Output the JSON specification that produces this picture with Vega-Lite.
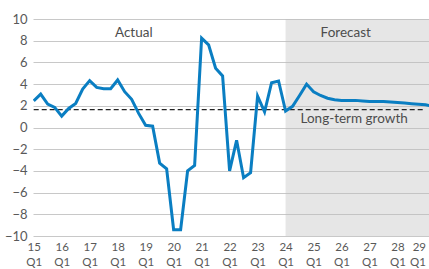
{
  "$schema": "https://vega.github.io/schema/vega-lite/v6.json",
  "width": 396,
  "height": 217,
  "autosize": {"type": "none"},
  "padding": {"left": 33, "top": 19, "right": 0, "bottom": 33},
  "config": {
    "view": {"stroke": null},
    "font": "Lato",
    "axis": {"labelFont": "Lato", "labelColor": "#595959"}
  },
  "datasets": {
    "growth": [
      {"q": 0, "v": 2.46}, {"q": 1, "v": 3.08}, {"q": 2, "v": 2.16}, {"q": 3, "v": 1.85},
      {"q": 4, "v": 1.05}, {"q": 5, "v": 1.76}, {"q": 6, "v": 2.22}, {"q": 7, "v": 3.55},
      {"q": 8, "v": 4.32}, {"q": 9, "v": 3.7}, {"q": 10, "v": 3.58}, {"q": 11, "v": 3.57},
      {"q": 12, "v": 4.38}, {"q": 13, "v": 3.3}, {"q": 14, "v": 2.6}, {"q": 15, "v": 1.3},
      {"q": 16, "v": 0.2}, {"q": 17, "v": 0.12}, {"q": 18, "v": -3.28}, {"q": 19, "v": -3.8},
      {"q": 20, "v": -9.42}, {"q": 21, "v": -9.42}, {"q": 22, "v": -4.0}, {"q": 23, "v": -3.5},
      {"q": 24, "v": 8.24}, {"q": 25, "v": 7.62}, {"q": 26, "v": 5.46}, {"q": 27, "v": 4.75},
      {"q": 28, "v": -4.0}, {"q": 29, "v": -1.18}, {"q": 30, "v": -4.63}, {"q": 31, "v": -4.17},
      {"q": 32, "v": 2.9}, {"q": 33, "v": 1.45}, {"q": 34, "v": 4.13}, {"q": 35, "v": 4.29},
      {"q": 36, "v": 1.52}, {"q": 37, "v": 1.95}, {"q": 38, "v": 2.95}, {"q": 39, "v": 4.0},
      {"q": 40, "v": 3.3}, {"q": 41, "v": 2.95}, {"q": 42, "v": 2.7}, {"q": 43, "v": 2.55},
      {"q": 44, "v": 2.5}, {"q": 45, "v": 2.5}, {"q": 46, "v": 2.5}, {"q": 47, "v": 2.45},
      {"q": 48, "v": 2.4}, {"q": 49, "v": 2.4}, {"q": 50, "v": 2.4}, {"q": 51, "v": 2.35},
      {"q": 52, "v": 2.3}, {"q": 53, "v": 2.25}, {"q": 54, "v": 2.2}, {"q": 55, "v": 2.15},
      {"q": 56, "v": 2.1}, {"q": 57, "v": 1.95}
    ]
  },
  "encoding": {
    "x": {
      "type": "quantitative",
      "scale": {"domain": [-0.1, 56.5], "nice": false, "zero": false},
      "axis": {
        "title": null,
        "values": [0, 4, 8, 12, 16, 20, 24, 28, 32, 36, 40, 44, 48, 52, 56],
        "labelExpr": "[format(15 + datum.value / 4, 'd'), 'Q1']",
        "labelAlign": {"condition": {"test": "datum.value >= 56", "value": "right"}, "value": "center"},
        "grid": false,
        "ticks": false,
        "domain": false,
        "labelFontSize": 11.5,
        "labelLineHeight": 15,
        "labelPadding": 5,
        "labelFlush": false,
        "labelOverlap": false
      }
    },
    "y": {
      "type": "quantitative",
      "scale": {"domain": [-10, 10], "nice": false},
      "axis": {
        "title": null,
        "values": [-10, -8, -6, -4, -2, 0, 2, 4, 6, 8, 10],
        "grid": true,
        "gridColor": "#c8c8c8",
        "gridWidth": 1,
        "ticks": false,
        "domain": false,
        "labelFontSize": 13,
        "labelPadding": 6,
        "labelOverlap": false
      }
    }
  },
  "layer": [
    {
      "data": {"values": [{}]},
      "mark": {"type": "rect", "color": "#bdbdbd", "opacity": 0.38},
      "encoding": {
        "x": {"datum": 36, "type": "quantitative"},
        "x2": {"datum": 56.5},
        "y": {"datum": 10, "type": "quantitative"},
        "y2": {"datum": -10}
      }
    },
    {
      "data": {"values": [{}]},
      "mark": {"type": "rule", "color": "#222222", "strokeWidth": 1.2, "strokeDash": [5, 3]},
      "encoding": {
        "x": {"datum": 0, "type": "quantitative"},
        "x2": {"datum": 56},
        "y": {"datum": 1.65, "type": "quantitative"}
      }
    },
    {
      "data": {"name": "growth"},
      "mark": {"type": "line", "color": "#0a7ec2", "strokeWidth": 3, "clip": true, "strokeJoin": "miter"},
      "encoding": {
        "x": {"field": "q", "type": "quantitative"},
        "y": {"field": "v", "type": "quantitative"}
      }
    },
    {
      "data": {"values": [{}]},
      "mark": {"type": "text", "fontSize": 13.5, "color": "#4d4d4d", "align": "center", "baseline": "alphabetic"},
      "encoding": {
        "x": {"datum": 14.3, "type": "quantitative"},
        "y": {"datum": 8.36, "type": "quantitative"},
        "text": {"value": "Actual"}
      }
    },
    {
      "data": {"values": [{}]},
      "mark": {"type": "text", "fontSize": 13.5, "color": "#4d4d4d", "align": "center", "baseline": "alphabetic"},
      "encoding": {
        "x": {"datum": 44.6, "type": "quantitative"},
        "y": {"datum": 8.36, "type": "quantitative"},
        "text": {"value": "Forecast"}
      }
    },
    {
      "data": {"values": [{}]},
      "mark": {"type": "text", "fontSize": 13.5, "color": "#4d4d4d", "align": "center", "baseline": "alphabetic"},
      "encoding": {
        "x": {"datum": 45.8, "type": "quantitative"},
        "y": {"datum": 0.4, "type": "quantitative"},
        "text": {"value": "Long-term growth"}
      }
    }
  ]
}
